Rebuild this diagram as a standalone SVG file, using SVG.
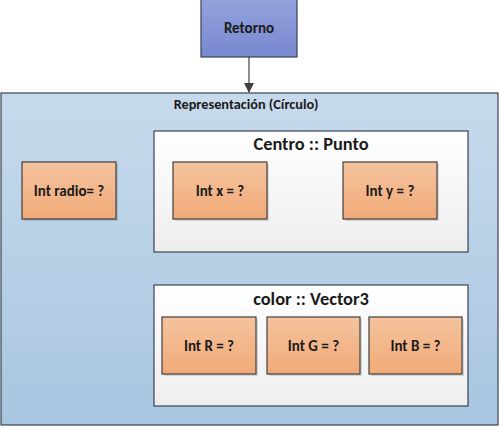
<svg xmlns="http://www.w3.org/2000/svg" width="500" height="428" viewBox="0 0 500 428">
<defs>
<linearGradient id="gBlue" x1="0" y1="0" x2="0" y2="1"><stop offset="0" stop-color="#94a2dd"/><stop offset="1" stop-color="#7888cf"/></linearGradient>
<linearGradient id="gOuter" x1="0" y1="0" x2="0" y2="1"><stop offset="0" stop-color="#c7daec"/><stop offset="1" stop-color="#a8c6e0"/></linearGradient>
<linearGradient id="gWhite" x1="0" y1="0" x2="0" y2="1"><stop offset="0" stop-color="#ffffff"/><stop offset="1" stop-color="#eeeeef"/></linearGradient>
<linearGradient id="gOrange" x1="0" y1="0" x2="0" y2="1"><stop offset="0" stop-color="#f5c39e"/><stop offset="1" stop-color="#f1aa78"/></linearGradient>
<marker id="arr" markerWidth="10" markerHeight="10" refX="9" refY="5" orient="auto" markerUnits="userSpaceOnUse"><path d="M0,0 L10,5 L0,10 Z" fill="#404040"/></marker>
</defs>
<style>
.frame{stroke:#3a4250;stroke-width:1.2}
.leaf{fill:url(#gOrange);stroke:#404040;stroke-width:1.2}
.shadow{fill:#000;opacity:0.12}
text{font-family:Calibri,"Carlito","Lato","Liberation Sans",sans-serif;font-weight:bold;fill:#1a1a1a;text-anchor:middle}
.t12{font-size:15px}
.t14{font-size:14.3px}
.t17{font-size:18.4px}
</style>
<g id="retorno">
<rect x="201" y="-1" width="96" height="58" fill="url(#gBlue)" class="frame"/>
<text x="249" y="33" class="t12">Retorno</text>
</g>
<g id="representacion">
<rect x="1" y="93" width="497" height="332" fill="url(#gOuter)" class="frame"/>
<text x="246" y="109" class="t14">Representación (Círculo)</text>
</g>
<g id="radio">
<rect x="24" y="164" width="94" height="57" class="shadow"/>
<rect x="22" y="162" width="94" height="57" class="leaf"/>
<text x="69" y="196" class="t12">Int radio= ?</text>
</g>
<g id="centro">
<rect x="154" y="131" width="314" height="121" fill="url(#gWhite)" class="frame"/>
<text x="311" y="150" class="t17">Centro :: Punto</text>
<g id="intx">
<rect x="175" y="164" width="94" height="57" class="shadow"/>
<rect x="173" y="162" width="94" height="57" class="leaf"/>
<text x="220" y="196" class="t12">Int x = ?</text>
</g>
<g id="inty">
<rect x="345" y="164" width="94" height="57" class="shadow"/>
<rect x="343" y="162" width="94" height="57" class="leaf"/>
<text x="390" y="196" class="t12">Int y = ?</text>
</g>
</g>
<g id="color">
<rect x="154" y="285" width="314" height="121" fill="url(#gWhite)" class="frame"/>
<text x="311" y="305" class="t17">color :: Vector3</text>
<g id="intR">
<rect x="164" y="319" width="94" height="57" class="shadow"/>
<rect x="162" y="317" width="94" height="57" class="leaf"/>
<text x="209" y="351" class="t12">Int R = ?</text>
</g>
<g id="intG">
<rect x="269" y="319" width="93" height="57" class="shadow"/>
<rect x="267" y="317" width="93" height="57" class="leaf"/>
<text x="313.5" y="351" class="t12">Int G = ?</text>
</g>
<g id="intB">
<rect x="371" y="319" width="93" height="57" class="shadow"/>
<rect x="369" y="317" width="93" height="57" class="leaf"/>
<text x="415.5" y="351" class="t12">Int B = ?</text>
</g>
</g>
<g id="connectors">
<line x1="249" y1="57" x2="249" y2="92" stroke="#404040" stroke-width="1.2" marker-end="url(#arr)"/>
</g>
</svg>
